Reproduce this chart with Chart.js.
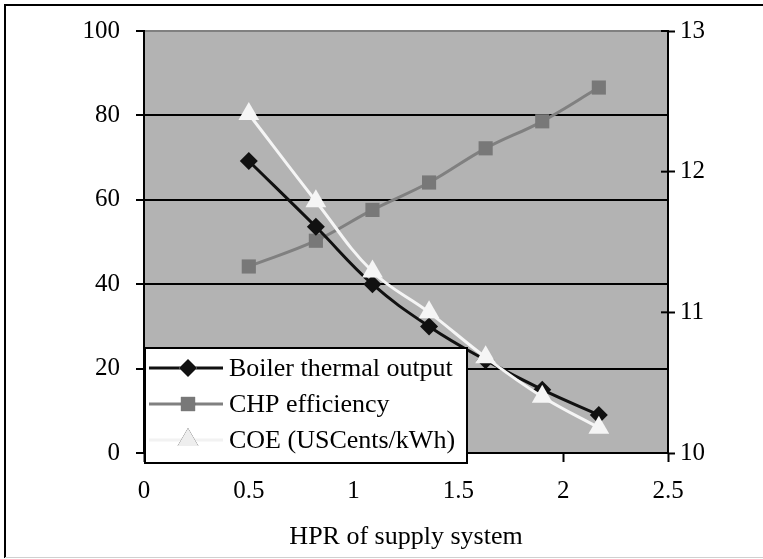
<!DOCTYPE html>
<html>
<head>
<meta charset="utf-8">
<script src="https://cdn.jsdelivr.net/npm/chart.js@4.4.1/dist/chart.umd.min.js"></script>
<style>
  html, body { margin: 0; padding: 0; background: #fff; }
  #wrap { width: 763px; height: 559px; position: relative; }
</style>
</head>
<body>
<div id="wrap"><canvas id="hprChart" width="763" height="559"></canvas></div>
<script>
// -----------------------------------------------------------------
// Data
// -----------------------------------------------------------------
const hprValues      = [0.5, 0.82, 1.09, 1.36, 1.63, 1.9, 2.17];
const boilerOutput   = [69.2, 53.6, 40.0, 30.0, 22.0, 15.0, 9.0];
const chpEfficiency  = [44.2, 50.3, 57.6, 64.1, 72.2, 78.6, 86.6];
const coeCents       = [12.41, 11.79, 11.29, 11.0, 10.68, 10.4, 10.18];

const seriesLabels   = ["Boiler thermal output", "CHP efficiency", "COE (USCents/kWh)"];
const xTicks         = [0, 0.5, 1, 1.5, 2, 2.5];
const leftTicks      = [0, 20, 40, 60, 80, 100];
const rightTicks     = [10, 11, 12, 13];

const SERIF = "'Liberation Serif', 'Times New Roman', serif";

const toPoints = (ys) => hprValues.map((x, i) => ({ x, y: ys[i] }));

// -----------------------------------------------------------------
// Plugins — plot background, frame, crossing ticks, inset legend
// -----------------------------------------------------------------
const plotBackground = {
  id: "plotBackground",
  beforeDraw(chart) {
    const { ctx, chartArea: a } = chart;
    ctx.save();
    ctx.fillStyle = "#b3b3b3";
    ctx.fillRect(a.left, a.top, a.right - a.left, a.bottom - a.top);
    ctx.restore();
  },
};

const outerFrame = {
  id: "outerFrame",
  afterDraw(chart) {
    const { ctx } = chart;
    ctx.save();
    ctx.strokeStyle = "#000";
    ctx.lineWidth = 2;
    ctx.beginPath();
    ctx.moveTo(5, 558);
    ctx.lineTo(5, 5);
    ctx.lineTo(763, 5);
    ctx.stroke();
    ctx.strokeStyle = "#d0d0d0";
    ctx.lineWidth = 1;
    ctx.beginPath();
    ctx.moveTo(5, 557.5);
    ctx.lineTo(763, 557.5);
    ctx.stroke();
    ctx.restore();
  },
};

// right axis ticks cross the axis line (inner half drawn here)
const innerRightTicks = {
  id: "innerRightTicks",
  afterDatasetsDraw(chart) {
    const { ctx } = chart;
    const s = chart.scales.y2;
    ctx.save();
    ctx.strokeStyle = "#000";
    ctx.lineWidth = 2;
    rightTicks.forEach((v) => {
      const y = s.getPixelForValue(v);
      ctx.beginPath();
      ctx.moveTo(s.left - 7, y);
      ctx.lineTo(s.left, y);
      ctx.stroke();
    });
    ctx.restore();
  },
};

const insetLegend = {
  id: "insetLegend",
  afterDraw(chart) {
    const { ctx } = chart;
    const box = { x: 145, y: 348, w: 322, h: 115 };
    ctx.save();
    ctx.fillStyle = "#fff";
    ctx.fillRect(box.x, box.y, box.w, box.h);
    ctx.strokeStyle = "#000";
    ctx.lineWidth = 2;
    ctx.strokeRect(box.x, box.y, box.w, box.h);

    const rows = [368, 404, 440];
    ctx.font = `26px ${SERIF}`;
    ctx.textBaseline = "middle";
    chart.data.datasets.forEach((ds, i) => {
      const y = rows[i];
      ctx.strokeStyle = ds.legendLine;
      ctx.lineWidth = 3;
      ctx.beginPath();
      ctx.moveTo(149, y);
      ctx.lineTo(223, y);
      ctx.stroke();
      ctx.beginPath();
      Chart.helpers.drawPoint(ctx, {
        pointStyle: ds.pointStyle,
        radius: ds.pointRadius,
        rotation: 0,
        borderWidth: 0,
      }, 188, y);
      ctx.fillStyle = ds.legendMarker;
      ctx.fill();
      ctx.fillStyle = "#000";
      ctx.fillText(ds.label, 229, y + 1);
    });
    ctx.restore();
  },
};

// -----------------------------------------------------------------
// Chart
// -----------------------------------------------------------------
const tickFont = { family: SERIF, size: 25 };

new Chart(document.getElementById("hprChart").getContext("2d"), {
  type: "line",
  data: {
    datasets: [
      {
        label: seriesLabels[0],
        data: toPoints(boilerOutput),
        yAxisID: "y",
        borderColor: "#111111",
        backgroundColor: "#111111",
        pointBackgroundColor: "#111111",
        legendLine: "#111111",
        legendMarker: "#111111",
        pointBorderWidth: 0,
        pointStyle: "rectRot",
        pointRadius: 9,
        borderWidth: 3,
        tension: 0.4,
        order: 1,
      },
      {
        label: seriesLabels[1],
        data: toPoints(chpEfficiency),
        yAxisID: "y",
        borderColor: "#808080",
        backgroundColor: "#808080",
        pointBackgroundColor: "#787878",
        legendLine: "#808080",
        legendMarker: "#787878",
        pointBorderWidth: 0,
        pointStyle: "rect",
        pointRadius: 10,
        borderWidth: 3,
        tension: 0.4,
        order: 2,
      },
      {
        label: seriesLabels[2],
        data: toPoints(coeCents),
        yAxisID: "y2",
        borderColor: "#f5f5f5",
        backgroundColor: "#f5f5f5",
        pointBackgroundColor: "#f5f5f5",
        legendLine: "#f2f2f2",
        legendMarker: "#eeeeee",
        pointBorderWidth: 0,
        pointStyle: "triangle",
        pointRadius: 12,
        borderWidth: 3,
        tension: 0.4,
        order: 0,
      },
    ],
  },
  options: {
    responsive: false,
    animation: false,
    layout: { padding: { left: 0, right: 0, top: 28, bottom: 0 } },
    plugins: {
      legend:  { display: false },
      tooltip: { enabled: false },
    },
    scales: {
      x: {
        type: "linear",
        min: 0,
        max: 2.5,
        afterBuildTicks: (s) => { s.ticks = xTicks.map((v) => ({ value: v })); },
        afterFit: (s) => { s.height = 106; },
        ticks: {
          color: "#000",
          font: tickFont,
          padding: 14,
          maxRotation: 0,
          callback: (v) => String(v),
        },
        grid: {
          drawOnChartArea: false,
          tickLength: 9,
          tickColor: "#000",
          tickWidth: 2,
        },
        border: { color: "#000", width: 2 },
        title: {
          display: true,
          text: "HPR of supply system",
          color: "#000",
          font: { family: SERIF, size: 26 },
          padding: { top: 0, bottom: 6 },
        },
      },
      y: {
        position: "left",
        min: 0,
        max: 100,
        afterBuildTicks: (s) => { s.ticks = leftTicks.map((v) => ({ value: v })); },
        afterFit: (s) => { s.width = 144; },
        ticks: { color: "#000", font: tickFont, padding: 16 },
        grid: {
          color: (c) => (c.tick && c.tick.value === 100 ? "#808080" : "#000"),
          lineWidth: 2,
          tickLength: 8,
          tickColor: "#000",
          tickWidth: 2,
        },
        border: { color: "#000", width: 2 },
      },
      y2: {
        position: "right",
        min: 10,
        max: 13,
        afterBuildTicks: (s) => { s.ticks = rightTicks.map((v) => ({ value: v })); },
        afterFit: (s) => { s.width = 95; },
        ticks: { color: "#000", font: tickFont, padding: 5 },
        grid: {
          drawOnChartArea: false,
          tickLength: 7,
          tickColor: "#000",
          tickWidth: 2,
        },
        border: { color: "#000", width: 2 },
      },
    },
  },
  plugins: [plotBackground, innerRightTicks, insetLegend, outerFrame],
});
</script>
</body>
</html>
